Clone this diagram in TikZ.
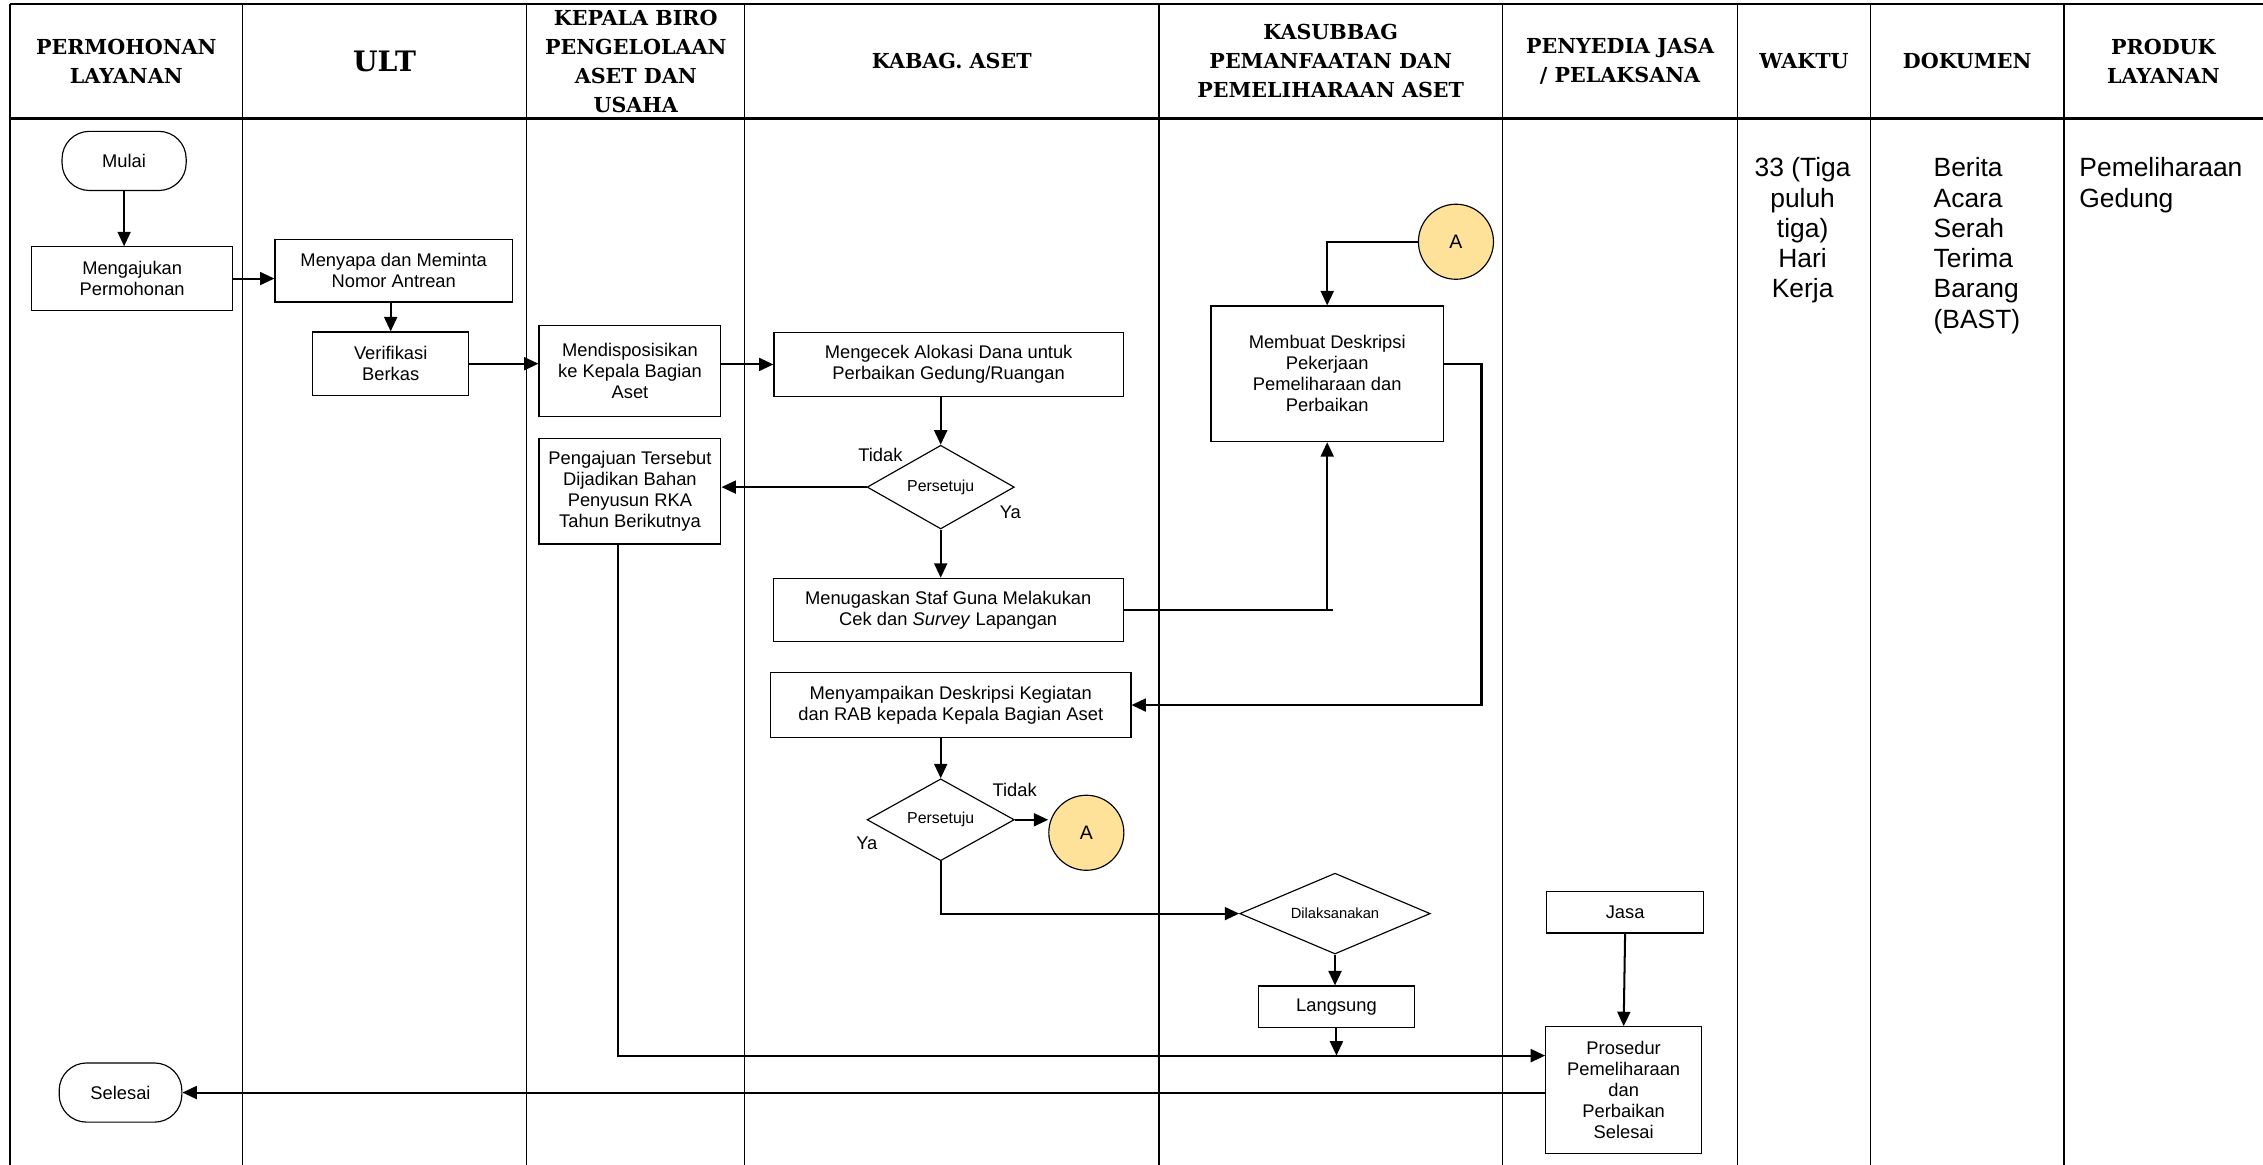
\documentclass[tikz,border=0pt]{standalone}
\usepackage{fontspec}
\setmainfont{Liberation Sans}
\newfontfamily\judulfont{DejaVu Serif}
\usepackage{tikz}
\usetikzlibrary{arrows.meta,shapes.geometric,calc}
\definecolor{kuning}{HTML}{FFE29A}

\begin{document}
\begin{tikzpicture}[x = 1pt, y = -1pt,
        garis/.style = {line width = 0.9pt},
        tebal/.style = {line width = 1.6pt},
        judul/.style = {align = center, inner sep = 0pt, font = {\judulfont\bfseries\fontsize{14.3}{20}\selectfont}},
        isi/.style = {inner sep = 0pt, font = {\fontsize{18.3}{21}\selectfont}},
        kotak/.style = {draw, line width = 0.8pt, align = center, inner sep = 0pt, font = {\fontsize{12.7}{14.6}\selectfont}},
        ujung/.style = {kotak, rounded corners = 19pt},
        belah/.style = {kotak, diamond, font = {\fontsize{11}{13}\selectfont}},
        bulat/.style = {kotak, circle, fill = kuning, minimum size = 52pt, font = {\fontsize{13.5}{15}\selectfont}},
        ket/.style = {inner sep = 0pt, font = {\fontsize{12.7}{14.6}\selectfont}},
        alur/.style = {line width = 1.4pt},
        panah/.style = {alur, -{Triangle[length = 10pt, width = 9pt]}}]
        \useasboundingbox (0,0) rectangle (1568,807);
        % kolom
        \foreach \x in {7,168,365,516,803,1041,1204,1296,1430}
        {
        \draw[garis](\x,3)to(\x,807);
        }
        \draw[tebal](7,3)to(1568,3);
        \draw[tebal](7,82)to(1568,82);
        % judul kolom
        \foreach \x/\teks [count = \i] in {87.5/{PERMOHONAN\\LAYANAN}, 440.5/{KEPALA BIRO\\PENGELOLAAN\\ASET DAN\\USAHA}, 659.5/{KABAG. ASET}, 922/{KASUBBAG\\PEMANFAATAN DAN\\PEMELIHARAAN ASET}, 1122.5/{PENYEDIA JASA\\/ PELAKSANA}, 1250/{WAKTU}, 1363/{DOKUMEN}, 1499/{PRODUK\\LAYANAN}}
        {
        \node[judul](judul\i)at(\x,42.5){\teks};
        }
        \node[judul, font = {\judulfont\bfseries\fontsize{19.5}{22}\selectfont}](judulult)at(266.5,42.5){ULT};
        % langkah
        \node[ujung, minimum width = 86pt, minimum height = 41pt](mulai)at(86,111.5){Mulai};
        \node[kotak, minimum width = 139pt, minimum height = 44pt](ajukan)at(91.6,193){Mengajukan\\Permohonan};
        \node[kotak, minimum width = 164.5pt, minimum height = 43pt](sapa)at(272.8,187.7){Menyapa dan Meminta\\Nomor Antrean};
        \node[kotak, minimum width = 108pt, minimum height = 44pt](verif)at(270.7,252){Verifikasi\\Berkas};
        \node[kotak, minimum width = 126pt, minimum height = 63pt](dispos)at(436.5,257){Mendisposisikan\\ke Kepala Bagian\\Aset};
        \node[kotak, minimum width = 126pt, minimum height = 73pt](rka)at(436.5,340.4){Pengajuan Tersebut\\Dijadikan Bahan\\Penyusun RKA\\Tahun Berikutnya};
        \node[kotak, minimum width = 242pt, minimum height = 44pt](cek)at(657.3,252.5){Mengecek Alokasi Dana untuk\\Perbaikan Gedung/Ruangan};
        \node[belah, minimum width = 102pt, minimum height = 58pt](setuju1)at(651.8,337.5){Persetuju};
        \node[kotak, minimum width = 242.6pt, minimum height = 44pt](tugas)at(657,422.7){Menugaskan Staf Guna Melakukan\\Cek dan \textit{Survey} Lapangan};
        \node[kotak, minimum width = 161pt, minimum height = 94pt](buat)at(919.6,259){Membuat Deskripsi\\Pekerjaan\\Pemeliharaan dan\\Perbaikan};
        \node[bulat](atas)at(1008.8,167.5){A};
        \node[kotak, minimum width = 249.6pt, minimum height = 45pt](sampai)at(658.8,488.5){Menyampaikan Deskripsi Kegiatan\\dan RAB kepada Kepala Bagian Aset};
        \node[belah, minimum width = 102pt, minimum height = 55pt](setuju2)at(651.8,568){Persetuju};
        \node[bulat](bawah)at(752.7,577){A};
        \node[belah, shape aspect = 2.4, minimum width = 132pt, minimum height = 56pt, font = {\fontsize{10.2}{12}\selectfont}](laksana)at(925,633){Dilaksanakan};
        \node[kotak, minimum width = 108pt, minimum height = 28.7pt](langsung)at(926,697.5){Langsung};
        \node[kotak, minimum width = 109pt, minimum height = 29pt](jasa)at(1126,632){Jasa};
        \node[kotak, minimum width = 108pt, minimum height = 88pt](prosedur)at(1125,755.4){Prosedur\\Pemeliharaan\\dan\\Perbaikan\\Selesai};
        \node[ujung, minimum width = 85pt, minimum height = 41pt](selesai)at(83.5,757){Selesai};
        % keterangan
        \node[ket](tidak1)at(610,315){Tidak};
        \node[ket](ya1)at(700,354.7){Ya};
        \node[ket](tidak2)at(703,547.5){Tidak};
        \node[ket](ya2)at(600.6,584.4){Ya};
        % isi kolom
        \node[isi, align = center, anchor = north](waktu)at(1249,109){33 (Tiga\\puluh\\tiga)\\Hari\\Kerja};
        \node[isi, align = left, anchor = north west](dokumen)at(1339.6,109){Berita\\Acara\\Serah\\Terima\\Barang\\(BAST)};
        \node[isi, align = left, anchor = north west](produk)at(1440.6,109){Pemeliharaan\\Gedung};
        % alur
        \draw[panah](mulai.south)to(mulai.south |- ajukan.north);
        \draw[panah](ajukan.east)to(ajukan.east -| sapa.west);
        \draw[panah](verif.north |- sapa.south)to(verif.north);
        \draw[panah](verif.east)to(verif.east -| dispos.west);
        \draw[panah](cek.west -| dispos.east)to(cek.west);
        \draw[panah](setuju1.north |- cek.south)to(setuju1.north);
        \draw[panah](setuju1.west)to(setuju1.west -| rka.east);
        \draw[panah](setuju1.south)to(setuju1.south |- tugas.north);
        \draw[panah](atas.west)-|(buat.north);
        \draw[alur](tugas.east)to([xshift=4pt]tugas.east -| buat.south);
        \draw[panah](tugas.east -| buat.south)to(buat.south);
        \draw[panah]([yshift=7pt]buat.east)to++(26,0)|-(sampai.east);
        \draw[panah](setuju2.north |- sampai.south)to(setuju2.north);
        \draw[panah](setuju2.east)to(setuju2.east -| bawah.west);
        \draw[panah](setuju2.south)|-(laksana.west);
        \draw[panah](laksana.south)to(laksana.south |- langsung.north);
        % ke prosedur
        \coordinate(masuk)at([yshift=24pt]prosedur.west);
        \draw[panah]([xshift=-8pt]rka.south)|-(masuk);
        \draw[panah](langsung.south)to(langsung.south |- masuk);
        \draw[panah](jasa.south)to(prosedur.north);
        \draw[panah](selesai.east -| prosedur.west)to(selesai.east);
    \end{tikzpicture}
\end{document}
